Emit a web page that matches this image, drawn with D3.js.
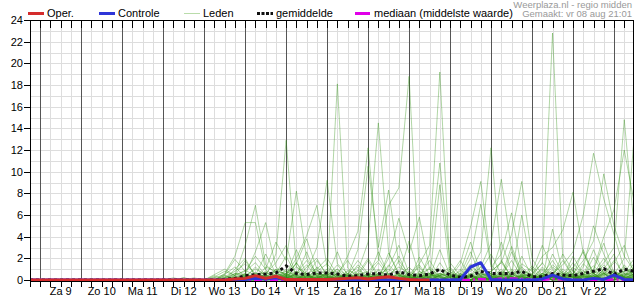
<!DOCTYPE html>
<html>
<head>
<meta charset="utf-8">
<script src="https://cdn.jsdelivr.net/npm/d3@7"></script>
<style>
body { margin: 0; background: #fff; }
svg { display: block; font-family: "Liberation Sans", Arial, sans-serif; }
</style>
</head>
<body>
<div id="chart"></div>
<script>
// day labels (placed at noon of each day)
var dayLabels = ["Za 9", "Zo 10", "Ma 11", "Di 12", "Wo 13", "Do 14", "Vr 15",
    "Za 16", "Zo 17", "Ma 18", "Di 19", "Wo 20", "Do 21", "Vr 22"];
var yTicks = [0, 2, 4, 6, 8, 10, 12, 14, 16, 18, 20, 22, 24];

// 6-hourly values, first point vr 8 aug 18:00
var oper = [0, 0, 0, 0, 0, 0, 0, 0, 0, 0, 0, 0, 0, 0, 0, 0, 0, 0, 0, 0,
    0.1, 0.15, 0.4, 0.15, 0.35, 0.05, 0.05, 0.05, 0.05, 0.05,
    0.1, 0.15, 0.2, 0.1, 0.2, 0.3, 0.15, 0.05, 0, 0];
var controle = [0, 0, 0, 0, 0, 0, 0, 0, 0, 0, 0, 0, 0, 0, 0, 0, 0, 0, 0, 0,
    0, 0.05, 0.15, 0.1, 0.2, 0.05, 0, 0, 0, 0,
    0, 0, 0, 0, 0, 0, 0, 0, 0, 0,
    0, 0, 0.05, 1.2, 1.6, 0.05, 0, 0, 0, 0,
    0.1, 0.45, 0.1, 0, 0, 0.15, 0.05, 0.45, 0.05, 0];
var gemiddelde = [0, 0, 0, 0, 0, 0, 0, 0, 0, 0, 0, 0, 0, 0, 0, 0, 0, 0, 0, 0.05,
    0.15, 0.4, 0.5, 0.55, 0.65, 1.3, 0.6, 0.5, 0.65, 0.65,
    0.55, 0.35, 0.4, 0.55, 0.6, 0.45, 0.75, 0.5, 0.4, 0.55,
    1.0, 0.45, 0.25, 0.35, 0.8, 0.6, 0.6, 0.6, 0.8, 0.3,
    0.3, 0.6, 0.45, 0.4, 0.6, 0.8, 1.05, 0.5, 1.0, 0.8];
var mediaan = [0, 0, 0, 0, 0, 0, 0, 0, 0, 0, 0, 0, 0, 0, 0, 0, 0, 0, 0, 0,
    0, 0, 0, 0, 0, 0, 0, 0, 0, 0,
    0, 0, 0, 0, 0, 0, 0, 0, 0, 0,
    0, 0, 0, 0, 0.1, 0, 0.15, 0.15, 0.1, 0,
    0, 0.1, 0.05, 0, 0, 0, 0, 0.05, 0, 0];

// ensemble members, from di 12 aug 00:00 (index 13) to za 23 aug 12:00
var ledenStart = 13;
var leden = [
    [0,0,0,0, 0,0,0.3,0.8, 1.5,0.6,0.3,2.4, 12.9,1.2,0.4,0.2, 0.5,0.8,0,0, 0.3,1.6,0.4,0, 0,0.6,0.2,0, 0,0,0.4,1.2, 0.6,0,0.3,0, 0,0.5,1.8,0.4, 0,0.3,2.1,0.6, 0,0.4,1.2],
    [0,0,0.2,0, 0,0.2,0.5,1.9, 0.8,2.2,1.0,3.5, 1.8,8.2,2.0,0.6, 0.2,0,0.4,1.2, 0,0,2.5,0.6, 0.2,1.4,0,0, 0,0.5,2.6,0.3, 0,1.8,0.2,0, 0,0,0.3,2.4, 0.8,0,0,0.5, 1.6,3.2,0.5],
    [0,0,0,0, 0,0,0.6,2.2, 5.3,5.3,0.9,0.4, 0.6,1.5,3.8,1.0, 0,0.3,0.2,0.9, 0.4,0,0,1.8, 0.5,0,0.3,2.8, 0.4,0,0,0, 0.5,0.3,3.1,0.8, 0,0.4,0,0, 1.1,2.6,0.4,0, 0,0.7,2.0],
    [0,0,0,0, 0,0.5,1.0,0.4, 3.2,6.9,1.4,0.6, 2.2,0.4,0.2,0.8, 1.5,0.3,0,0, 0,0.9,0.2,0.5, 0,0,1.2,0.3, 0,0.6,0.2,0.9, 2.4,0.5,0,0.3, 0.2,0,4.7,0.6, 0,0.4,0.2,1.4, 0.3,0,0.6],
    [0,0,0,0, 0,0,0.2,0.6, 0.5,2.6,5.3,1.2, 0.4,0.8,0.3,0, 0.2,0.6,1.8,0.4, 0,0,0.3,0, 0.8,0.2,0,0.4, 0.3,0,0.5,0, 0,0.4,0.8,0.2, 1.3,0.3,0,0.2, 0.5,0,0.9,3.4, 0.6,0.2,0],
    [0,0,0,0, 0,0,0,0.3, 0.6,0.2,0,0.9, 0.5,2.0,4.1,6.9, 1.2,0.4,0,0.3, 0,0.5,1.0,0.4, 0,2.1,0.5,0, 0,0.2,0,0.4, 0.8,1.6,0.3,0, 0,0.9,0.2,0, 0,0.6,1.3,0.4, 0.9,0.3,0],
    [0,0,0,0, 0,0,0.4,0.2, 0,0.7,0.2,0.5, 0.3,0,0.8,3.0, 9.2,1.5,0.6,0, 0,0.2,0,0.8, 0.4,0,0,0.6, 0.2,0,1.0,0.3, 0,0.2,0,0.5, 0.4,1.6,0.3,0, 0.2,0,0,0.7, 0.2,1.0,0.4],
    [0,0,0,0, 0,0,0,0, 0.3,0,0.4,0.2, 0.6,0.3,0,0.4, 0.6,18.1,1.1,0.2, 0,0.4,0.2,0, 0,0.5,0.3,1.0, 0,0,0.2,0, 0.3,0,0.6,0.2, 0,0.3,0.9,0, 0.6,0,0.3,0.2, 0,0.5,0.8],
    [0,0,0,0, 0,0,0.2,0, 0.4,1.0,0.5,0, 0.2,0.5,1.4,0.3, 0,0.4,2.2,4.5, 12.2,2.0,0.5,0.2, 0,0.3,0,0.5, 0.4,1.8,0.3,0, 0,0,0.4,1.2, 0.3,0,0.5,0.2, 2.2,0.5,0,0, 0.4,0.2,0.6],
    [0,0,0,0, 0,0,0,0.2, 0,0.3,0,0.6, 0.4,0,0.3,0.9, 0.2,0.6,0,0.8, 3.5,14.5,2.6,0.4, 0.2,0,0.6,0, 0,0.3,0,0.6, 0.2,0.8,0,0, 0.5,0,0.2,1.0, 0.3,0.9,0,0.2, 0,0,0.4],
    [0,0,0,0, 0,0,0,0, 0.2,0.5,0,0, 0.3,1.2,0.6,0, 0.5,1.0,0.4,2.8, 10.5,3.0,8.3,1.5, 0.3,0,0,0.4, 1.0,0.2,0.6,0, 0,0.5,0.2,0, 0,0.2,0.6,0.3, 0,1.5,0.6,0, 0.8,0.2,0],
    [0,0,0,0, 0,0,0,0, 0,0.2,0.3,0, 0.5,0.2,0,0.6, 0.3,0,0.9,0.5, 0.8,1.8,6.9,8.5, 18.8,0.8,0.2,0, 0.3,0,0,0.5, 0.4,0,1.0,0.3, 0,0.6,0,0.4, 0.9,0.2,0.4,0, 0,1.2,0.3],
    [0,0,0,0, 0,0,0,0.4, 0.9,0.4,0.7,0.3, 0,0.6,1.8,0.4, 0,0.2,0.5,0, 0.6,0.3,2.0,5.7, 2.5,5.8,1.0,0.3, 0,0.5,0.3,0, 0.2,0,0.4,6.0, 0.8,0,0.3,0, 0.3,0,0.8,0.6, 0,0.3,0.9],
    [0,0,0,0, 0,0,0,0, 0.2,0,0.6,0.4, 0.2,0.4,0,0.3, 0.4,0,0.3,0.2, 0,0.6,0,0.3, 0.5,1.5,3.2,19.2, 0.8,0,0.4,0.2, 0,0.3,0,0.6, 0.2,0.4,0,0, 0,0.5,0.3,0.8, 0.4,0,0.2],
    [0,0,0,0, 0,0,0.2,0, 0,0.3,0,0.8, 0.6,0,0.5,0, 0.3,1.4,0.2,0, 0.4,0,0.5,1.2, 0.6,0,2.4,10.8, 1.6,0.4,0,0, 0.6,0.2,0,0.3, 0,0.2,1.2,0.4, 0,0,0.6,2.0, 0.5,0,0],
    [0,0,0,0, 0,0,0,0.2, 0.4,0,0.3,0, 0,0.8,0.2,0.5, 0,0.3,0.6,0, 0.2,0.4,0,0.6, 0.3,1.2,0,8.8, 0.5,0,1.4,0.3, 0,0.6,0.3,0, 0.4,0,0.2,0.3, 1.6,0.4,0,0, 0.2,0.6,0.3],
    [0,0,0,0, 0,0,0,0, 0,0.2,0,0.4, 0.3,0,0.6,0.2, 0.6,0,0.2,0.5, 0,0.3,0.6,0, 0.4,0,0.3,0.6, 0.2,1.5,4.9,9.1, 1.4,0.3,0,0.4, 0,0.3,0,0.8, 0.2,0,0.4,0, 0.6,0.2,0],
    [0,0,0,0, 0,0,0,0, 0.3,0,0.2,0, 0.4,0.2,0,0.6, 0,0.5,0,0.3, 0.4,0,0.2,0.5, 0,0.3,0.6,0.2, 0,0.4,0.8,2.6, 12.2,1.8,0.3,0, 0.2,0,0.5,0.3, 0,0.8,0.2,0, 0.3,0.4,0.8],
    [0,0,0,0, 0,0,0,0, 0,0.4,0,0.2, 0.2,0,0.4,0, 0.8,0.2,0,0.4, 0.2,0.6,0,0.3, 0,0,0.5,0.4, 0.6,0,0.3,1.2, 3.4,9.3,2.8,0.5, 0,0.6,0.2,0, 0.4,0,0.3,0.6, 0,0.2,0.4],
    [0,0,0,0, 0,0,0,0, 0.2,0,0,0.3, 0,0.4,0.2,0, 0.3,0,0.6,0.2, 0,0.3,0.4,0, 0.2,0.5,0,0, 0.3,0.6,0,0.4, 0.8,1.6,4.2,9.1, 2.0,0.4,0,0.3, 0,0.5,0.6,0, 0.6,0,0.5],
    [0,0,0,0, 0,0,0,0, 0,0.3,0.5,0, 0.2,0,0.3,0.4, 0,0.2,0.4,0, 0.5,0,0.3,0.2, 0,0.4,0.2,0, 0.5,0.3,2.0,7.0, 1.2,2.4,6.2,1.0, 0.3,0,0.2,0.5, 0.3,0.2,0,1.0, 0.4,0.3,0],
    [0,0,0,0, 0,0,0,0, 0,0,0.3,0, 0,0.3,0,0.2, 0.4,0,0.3,0, 0,0.2,0,0.4, 0.3,0,0,0.2, 0,0.2,0.5,0, 0.3,0,0.2,0.4, 0.6,1.5,22.8,2.0, 0.4,0,0.2,0.6, 0,0.3,0.2],
    [0,0,0,0, 0,0,0,0, 0,0.2,0,0, 0.3,0,0.2,0, 0,0.4,0,0.6, 0.3,0,0.4,0, 0,0.2,0.4,0.3, 0.2,0,0,0.6, 0.4,0.2,0,0.8, 0.5,2.2,3.0,4.6, 8.1,2.5,0.6,0, 0.4,0.8,0.2],
    [0,0,0,0, 0,0,0,0, 0.2,0,0,0.2, 0,0.2,0.4,0, 0.2,0,0,0.3, 0.2,0.4,0,0.2, 0.4,0,0.2,0, 0,0.3,0.2,0, 0,0.5,0.3,0, 0.2,0,0.6,1.4, 2.6,6.0,11.7,7.5, 4.2,1.0,0.6],
    [0,0,0,0, 0,0,0,0, 0,0,0.2,0, 0.2,0,0,0.3, 0,0.2,0.4,0, 0,0.3,0,0.4, 0.2,0,0.3,0, 0.4,0,0,0.2, 0,0.3,0.6,0, 0.3,0.2,0,0.5, 0.6,1.8,3.6,9.8, 5.0,2.2,0.8],
    [0,0,0,0, 0,0,0,0, 0,0.2,0,0, 0,0,0.3,0, 0.2,0,0,0.3, 0,0.2,0.3,0, 0,0.2,0,0.4, 0,0,0.3,0, 0.2,0,0.4,0.3, 0,0.4,0.2,0, 0.3,0,0.5,1.6, 3.0,14.8,4.5],
    [0,0,0,0, 0,0,0,0, 0,0,0.2,0, 0.2,0,0,0.2, 0,0.3,0,0, 0.4,0,0,0.2, 0,0.3,0,0, 0.2,0,0.4,0, 0,0.2,0,0.5, 0.2,0,0.3,0.6, 0.2,0.4,0,0.6, 0.5,2.0,13.6],
    [0,0,0,0, 0,0,0,0, 0,0,0,0.3, 0,0.2,0,0, 0.3,0,0.2,0, 0,0,0.3,0, 0.3,0,0,0.2, 0,0.3,0,0, 0.2,0,0.3,0, 0.4,0.2,0,0.2, 0,0.3,1.0,4.0, 6.5,12.0,7.0],
    [0,0,0,0, 0,0,0,0, 0,0,0.3,0.2, 0.5,0,0.6,1.0, 2.0,0.5,0,0, 0.2,0.6,0.3,0, 0,0,0.4,0.6, 0.3,0.8,3.5,0.6, 0,0.4,0,1.5, 0.8,3.2,1.0,0.2, 0,1.2,5.0,2.4, 0.4,0,0.8],
    [0,0,0,0, 0,0,0,0.3, 0.2,1.2,0.3,0, 0.4,2.8,0.5,0, 0.2,0,0.5,1.8, 0.6,0,1.4,0.4, 3.6,0.4,0,0, 0,0.2,0,0.3, 0.6,3.5,0.8,0, 0,0,2.4,0.6, 0.3,0,0.2,0.5, 1.8,0.6,0],
    [0,0.2,0,0, 0,0.3,0.8,0.4, 1.8,0.4,2.4,0.6, 0.3,0.5,0,0.6, 0.4,2.6,0.3,0, 0,1.0,0.2,0, 0.6,0,0,1.6, 0.2,0,0.5,0, 0,0.4,1.8,0.3, 0,0.6,0,0, 0.8,0,0.4,0, 0,0.6,0.4],
    [0,0,0.2,0, 0,0,0,0.6, 0.3,0,0.6,1.6, 3.2,0.3,0,0.2, 0.6,0,0.3,0.4, 1.8,0.2,0,0, 0.4,0.6,1.0,0, 0,0.4,0,0, 0.5,0,0,0.4, 0.3,1.0,0.4,0, 0,0.2,0.8,0.3, 0.2,0,0.3],
    [0,0,0,0, 0,0,0.4,0, 0.6,0.2,0,1.0, 0.8,0.4,2.6,0.3, 0,0.6,0,0.2, 0.4,0,0.8,2.2, 0.2,0.3,0,0, 0.4,0,0.6,0.2, 0,0,0.3,0, 0,0.4,0,0.3, 0.5,0.3,0,0.2, 0,0.2,0.6],
    [0,0,0,0, 0,0,0.2,0.5, 0.8,1.6,0.4,0, 0.6,0,1.2,2.0, 0.3,0,0.8,0, 0.2,2.6,0.5,0, 0,0.8,0.3,0.5, 1.2,0,0,0.6, 0.4,0,0,2.2, 0.3,0.6,0,0, 0.4,2.8,0.6,0.2, 0,1.4,0.3],
    [0,0,0,0, 0,0,0,0.2, 0.4,0,1.2,0.8, 0,1.6,0.4,0, 0,0.6,0.2,1.4, 0.5,0,0,0.3, 1.2,0.2,0.6,0, 0,0.3,1.5,0.4, 0,0.8,0.3,0, 1.1,0,0.4,1.8, 0.3,0,0.6,0, 0.8,0.3,1.6],
    [0,0,0,0.2, 0,0.4,0,1.0, 2.0,0.3,0,0.4, 0.8,0.3,0,1.2, 0.4,0,0,0.6, 2.0,0.4,0.3,0, 0,0.4,1.8,0.3, 0,1.0,0,0.2, 0.6,0,2.6,0.4, 0,1.2,0.3,0, 0,0.6,0,1.0, 2.4,0,0.2],
    [0,0,0,0, 0,0,0,0, 0.5,0.2,0.8,0, 1.0,0.4,0.6,0, 0.2,1.0,0,0.2, 0,0.4,1.2,3.2, 0.6,0,0.2,0.4, 0,0.2,0.4,1.6, 0.3,0,0.5,0.2, 0,0.3,1.4,0.6, 0.2,0.4,2.8,0.6, 0.2,0.5,0],
    [0,0,0,0, 0,0,0.5,1.2, 0.3,0.6,0.2,1.0, 0.4,1.6,0,0.3, 1.0,0.2,0.4,0, 0.3,0,0.2,0.6, 0,0.3,0,0.4, 0.8,0.2,0,0.3, 0.2,0.6,0,0, 0.5,0,0.3,0.2, 1.2,0.3,0,0.4, 0.3,0.8,1.0],
    [0,0,0,0, 0,0.2,0,0.4, 0.2,0,0.4,0.3, 0.2,0.6,0.3,1.8, 0.5,0,0,0.2, 0.6,0.3,0,0, 0.3,0,0.6,0.2, 0,0.4,0,0, 0.2,1.0,0,0.3, 0,0.2,0.6,0, 0,0.3,0.4,0, 0.6,0.3,0.2]
];

var width = 635, height = 300;
var plot = { left: 30, right: 634.5, top: 20, bottom: 280 };
var start = new Date(2025, 7, 8, 18), end = new Date(2025, 7, 23, 12);

function timeAt(i) {
    return d3.timeHour.offset(start, 6 * i);
}

var x = d3.scaleTime()
    .domain([start, end])
    .range([plot.left, plot.right]);
var y = d3.scaleLinear()
    .domain([0, 24])
    .range([plot.bottom, plot.top]);

var svg = d3.select("#chart").append("svg")
    .attr("width", width)
    .attr("height", height);

svg.append("clipPath").attr("id", "clip")
    .append("rect")
    .attr("x", plot.left).attr("y", plot.top - 2)
    .attr("width", 633.5 - plot.left).attr("height", plot.bottom - plot.top + 4);

var sixHours = d3.timeHour.every(6).range(start, d3.timeHour.offset(end, 1));
var days = d3.timeDay.range(start, end);

// light grid
svg.append("g").selectAll("line")
    .data(d3.range(0, 25))
    .enter().append("line")
    .attr("x1", plot.left).attr("x2", 633.5)
    .attr("y1", function (d) { return Math.round(y(d)) + 0.5; })
    .attr("y2", function (d) { return Math.round(y(d)) + 0.5; })
    .attr("stroke", "#dddddd");
svg.append("g").selectAll("line")
    .data(sixHours)
    .enter().append("line")
    .attr("x1", function (d) { return Math.round(x(d)) + 0.5; })
    .attr("x2", function (d) { return Math.round(x(d)) + 0.5; })
    .attr("y1", plot.top).attr("y2", plot.bottom)
    .attr("stroke", "#dddddd");

// day separators
svg.append("g").selectAll("line")
    .data(days)
    .enter().append("line")
    .attr("x1", function (d) { return Math.round(x(d)) + 0.5; })
    .attr("x2", function (d) { return Math.round(x(d)) + 0.5; })
    .attr("y1", plot.top).attr("y2", plot.bottom)
    .attr("stroke", "#555555");

var line = d3.line()
    .x(function (d) { return x(d.t); })
    .y(function (d) { return y(d.v); });

function toPoints(arr, offset) {
    return arr.map(function (v, k) { return { t: timeAt(offset + k), v: v }; });
}

var data = svg.append("g").attr("clip-path", "url(#clip)");

// members
data.selectAll(".lid")
    .data(leden)
    .enter().append("path")
    .attr("class", "lid")
    .attr("d", function (d) { return line(toPoints(d, ledenStart)); })
    .attr("fill", "none")
    .attr("stroke", "rgb(50,148,20)")
    .attr("stroke-opacity", 0.38)
    .attr("stroke-width", 1);

// median
data.append("path")
    .attr("d", line(toPoints(mediaan, 0)))
    .attr("fill", "none")
    .attr("stroke", "#e000e8")
    .attr("stroke-width", 2.5)
    .attr("stroke-dasharray", "8,3,2,3");

// mean
data.append("path")
    .attr("d", line(toPoints(gemiddelde, 0)))
    .attr("fill", "none")
    .attr("stroke", "#111")
    .attr("stroke-width", 3)
    .attr("stroke-dasharray", "3,3");

// axes frame
svg.append("line")
    .attr("x1", plot.left).attr("x2", 634)
    .attr("y1", 281.5).attr("y2", 281.5)
    .attr("stroke", "#000");

// control and operational run
data.append("path")
    .attr("d", line(toPoints(controle, 0)))
    .attr("fill", "none")
    .attr("stroke", "#2e35d8")
    .attr("stroke-width", 3)
    .attr("stroke-linejoin", "round");
data.append("path")
    .attr("d", line(toPoints(oper, 0)))
    .attr("fill", "none")
    .attr("stroke", "#d42c2c")
    .attr("stroke-width", 3)
    .attr("stroke-linejoin", "round");

svg.append("line")
    .attr("x1", plot.left).attr("x2", 634)
    .attr("y1", 20.5).attr("y2", 20.5)
    .attr("stroke", "#000");
svg.append("line")
    .attr("x1", 30.5).attr("x2", 30.5)
    .attr("y1", 20).attr("y2", 282)
    .attr("stroke", "#000");
svg.append("line")
    .attr("x1", 633.5).attr("x2", 633.5)
    .attr("y1", 20).attr("y2", 282)
    .attr("stroke", "#000");

// tick marks top and bottom
svg.append("g").selectAll("line")
    .data(sixHours)
    .enter().append("line")
    .attr("x1", function (d) { return Math.round(x(d)) + 0.5; })
    .attr("x2", function (d) { return Math.round(x(d)) + 0.5; })
    .attr("y1", 282).attr("y2", 287)
    .attr("stroke", "#000");
svg.append("g").selectAll("line")
    .data(sixHours)
    .enter().append("line")
    .attr("x1", function (d) { return Math.round(x(d)) + 0.5; })
    .attr("x2", function (d) { return Math.round(x(d)) + 0.5; })
    .attr("y1", 20).attr("y2", 28)
    .attr("stroke", "#000");

// y axis labels
var yAxis = svg.append("g");
yAxis.selectAll("line")
    .data(yTicks)
    .enter().append("line")
    .attr("x1", 24).attr("x2", 30)
    .attr("y1", function (d) { return Math.round(y(d)) + 0.5; })
    .attr("y2", function (d) { return Math.round(y(d)) + 0.5; })
    .attr("stroke", "#000");
yAxis.selectAll("text")
    .data(yTicks)
    .enter().append("text")
    .attr("x", 23)
    .attr("y", function (d) { return y(d) + 4; })
    .attr("text-anchor", "end")
    .style("font-size", "11px")
    .text(function (d) { return d; });

// day labels at noon
svg.append("g").selectAll("text")
    .data(dayLabels)
    .enter().append("text")
    .attr("x", function (d, k) { return x(d3.timeHour.offset(days[k], 12)); })
    .attr("y", 295)
    .attr("text-anchor", "middle")
    .style("font-size", "11px")
    .text(function (d) { return d; });

// legend
var legend = [
    { label: "Oper.", x: 28, color: "#d42c2c", w: 3, dash: null },
    { label: "Controle", x: 99, color: "#2e35d8", w: 3, dash: null },
    { label: "Leden", x: 184, color: "#b9dcaa", w: 1, dash: null },
    { label: "gemiddelde", x: 257, color: "#111", w: 3, dash: "3,1.5" },
    { label: "mediaan (middelste waarde)", x: 355, color: "#e000e8", w: 3, dash: "15,2,1.5,2" }
];
var lg = svg.append("g").selectAll("g")
    .data(legend)
    .enter().append("g");
lg.append("line")
    .attr("x1", function (d) { return d.x; })
    .attr("x2", function (d) { return d.x + 16; })
    .attr("y1", 13.5).attr("y2", 13.5)
    .attr("stroke", function (d) { return d.color; })
    .attr("stroke-width", function (d) { return d.w; })
    .attr("stroke-dasharray", function (d) { return d.dash; });
lg.append("text")
    .attr("x", function (d) { return d.x + 19; })
    .attr("y", 17)
    .style("font-size", "11px")
    .text(function (d) { return d.label; });

svg.append("text")
    .attr("x", 632).attr("y", 7.5)
    .attr("text-anchor", "end")
    .style("font-size", "9.5px")
    .attr("fill", "#999")
    .text("Weerplaza.nl - regio midden");
svg.append("text")
    .attr("x", 632).attr("y", 17)
    .attr("text-anchor", "end")
    .style("font-size", "9.5px")
    .attr("fill", "#999")
    .text("Gemaakt: vr 08 aug 21:01");
</script>
</body>
</html>
